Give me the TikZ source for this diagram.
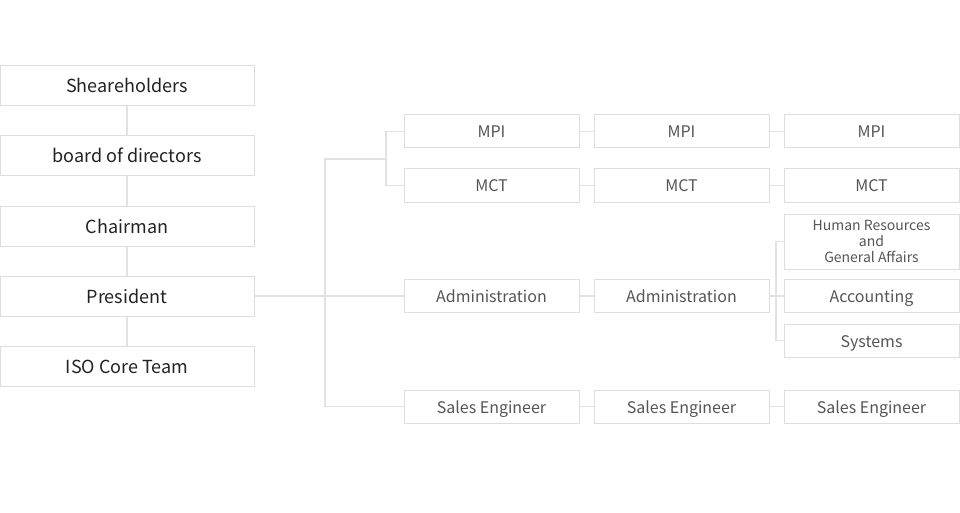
\documentclass[tikz,border=0pt]{standalone}
\usepackage{fontspec}
\setmainfont{Noto Sans CJK KR}
\usetikzlibrary{positioning}
\definecolor{boxline}{HTML}{DDDDDD}
\definecolor{linkgray}{HTML}{E2E2E2}
\definecolor{textdark}{HTML}{222222}
\definecolor{textgray}{HTML}{555555}
\begin{document}
\begin{tikzpicture}[x=1pt,y=-1pt]
        \tikzset{topbox/.style = {shape=rectangle,draw=boxline,line width=1pt,minimum width=254pt,minimum height=40pt,inner sep=0pt,text height=1.4em,text depth=0em,text=textdark,font=\fontsize{18}{21}\selectfont}}
        \tikzset{unitbox/.style = {shape=rectangle,draw=boxline,line width=1pt,minimum width=175pt,minimum height=33pt,inner sep=0pt,text height=1.3em,text depth=0em,text=textgray,font=\fontsize{16}{19}\selectfont}}
        \tikzset{link/.style = {draw=linkgray,line width=1.2pt}}
        \useasboundingbox (0,0) rectangle (960,513);
        % left column
        \node[topbox] (share) at (127,86) {Sheareholders};
        \node[topbox] (board) at (127,156) {board of directors};
        \node[topbox] (chair) at (127,226) {Chairman};
        \node[topbox] (pres) at (127,296) {President};
        \node[topbox] (iso) at (127,366) {ISO Core Team};
        \draw[link] (share) -- (board);
        \draw[link] (board) -- (chair);
        \draw[link] (chair) -- (pres);
        \draw[link] (pres) -- (iso);
        % units
        \node[unitbox] (mpi2) at (491.5,131.5) {MPI};
        \node[unitbox] (mpi3) at (681.5,131.5) {MPI};
        \node[unitbox] (mpi4) at (871.5,131.5) {MPI};
        \node[unitbox] (mct2) at (491.5,185.5) {MCT};
        \node[unitbox] (mct3) at (681.5,185.5) {MCT};
        \node[unitbox] (mct4) at (871.5,185.5) {MCT};
        \node[unitbox] (admin2) at (491.5,296) {Administration};
        \node[unitbox] (admin3) at (681.5,296) {Administration};
        \node[unitbox,minimum height=55pt,text height=,text depth=,align=center,font=\fontsize{14}{16}\selectfont] (hr) at (871.5,241.5) {Human Resources\\and\\General Affairs};
        \node[unitbox] (acct) at (871.5,296) {Accounting};
        \node[unitbox] (sys) at (871.5,340.5) {Systems};
        \node[unitbox] (sales2) at (491.5,406.5) {Sales Engineer};
        \node[unitbox] (sales3) at (681.5,406.5) {Sales Engineer};
        \node[unitbox] (sales4) at (871.5,406.5) {Sales Engineer};
        % connectors
        \coordinate (fork) at (325,159);
        \coordinate (split) at (386,159);
        \coordinate (adminsplit) at (776,296);
        \draw[link] (pres) -- (admin2);
        \draw[link] (split) -- (fork) |- (sales2);
        \draw[link] (mpi2) -| (split) |- (mct2);
        \foreach \r in {mpi,mct,admin,sales}
            \draw[link] (\r2) -- (\r3);
        \foreach \r in {mpi,mct,sales}
            \draw[link] (\r3) -- (\r4);
        \draw[link] (admin3) -- (adminsplit) -- (acct);
        \draw[link] (hr) -| (adminsplit) |- (sys);
\end{tikzpicture}
\end{document}
